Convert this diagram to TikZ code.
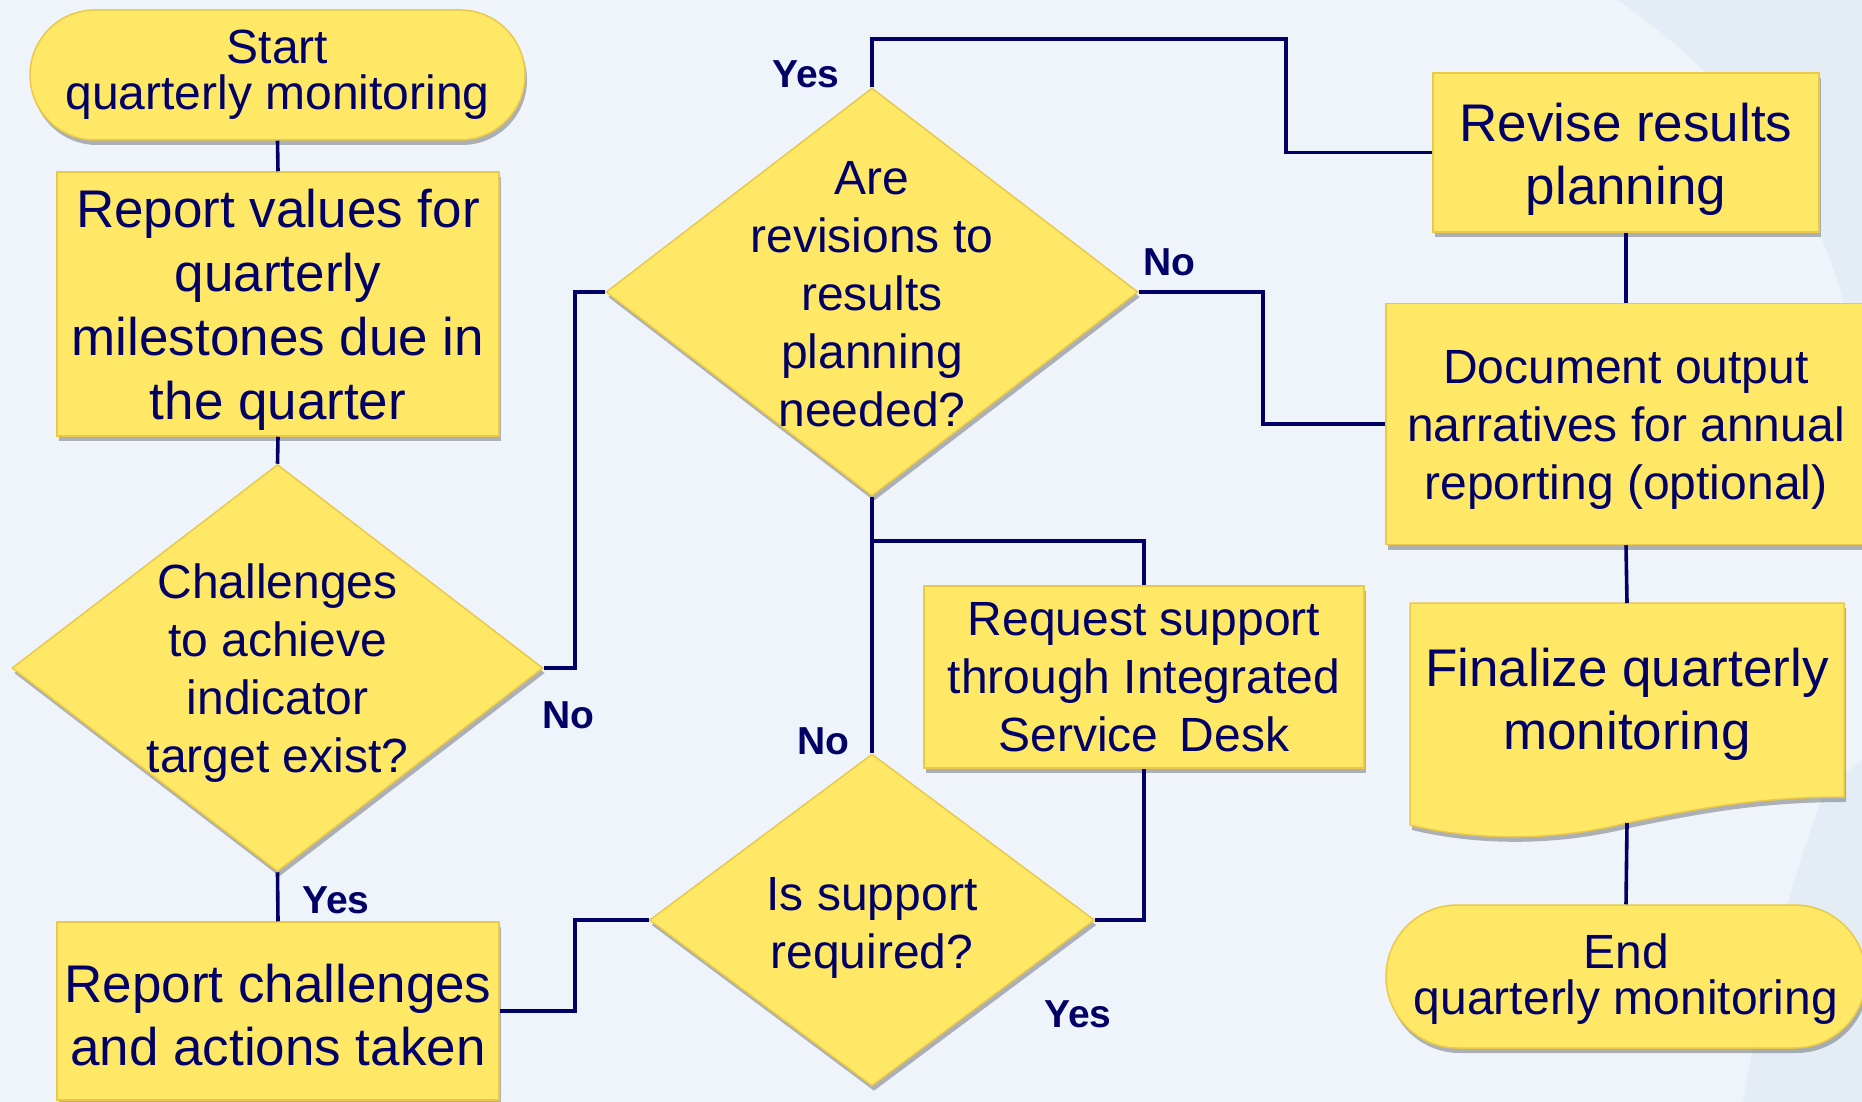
\documentclass[tikz,border=0pt]{standalone}
\usepackage{fontspec}
\setmainfont{Liberation Sans}
\usetikzlibrary{shapes.geometric,shadows,calc}
\definecolor{bg}{HTML}{EFF4FA}
\definecolor{bgtwo}{HTML}{E4EDF6}
\definecolor{navy}{HTML}{000066}
\definecolor{yel}{HTML}{FFE866}
\definecolor{yeledge}{HTML}{E9C947}
\tikzset{
 shp/.style={fill=yel, draw=yeledge, line width=1.5pt,
   drop shadow={shadow xshift=2pt, shadow yshift=-5pt, opacity=0.28, fill=black}},
 proc/.style={shp, rectangle, inner sep=0pt, text=navy, align=center},
 term/.style={proc},
 dec/.style={shp, diamond, inner sep=0pt},
 txt/.style={text=navy, align=center, inner sep=0pt},
 lbl/.style={text=navy, font=\fontsize{39pt}{39pt}\selectfont\bfseries, inner sep=0pt},
 conn/.style={draw=navy, line width=3.6pt},
 fbig/.style={font=\fontsize{53pt}{64pt}\selectfont},
 fmid/.style={font=\fontsize{48pt}{58pt}\selectfont},
 fterm/.style={font=\fontsize{48pt}{46pt}\selectfont},
}
\begin{document}
\begin{tikzpicture}[x=1pt,y=-1pt]
\useasboundingbox (0,0) rectangle (1862,1102);
\fill[bg] (0,0) rectangle (1862,1102);
\fill[bgtwo] (1617,0) .. controls (1720,70) and (1820,180) .. (1850,330)
  -- (1862,330) -- (1862,0) -- cycle;
\fill[bgtwo] (1862,760) -- (1825,790) .. controls (1790,880) and (1760,1000) .. (1743,1102)
  -- (1862,1102) -- cycle;

% shapes
\node[term, fterm, minimum width=495pt, minimum height=130pt, rounded corners=65pt] (start) at (277.5,75) {Start\\quarterly monitoring};
\node[proc, minimum width=442pt, minimum height=264pt] (rv) at (278,304) {};
\node[txt, fbig] (rvt) at (278,310) {Report values for\\quarterly\\milestones due in\\the quarter};
\node[dec, minimum width=531pt, minimum height=407pt] (d1) at (277.5,668) {};
\node[txt, fmid] (d1t) at (277.5,673) {Challenges\\to achieve\\indicator\\target exist?};
\node[proc, minimum width=442pt, minimum height=178pt] (rc) at (278,1011) {};
\node[txt, fbig, font=\fontsize{53pt}{63pt}\selectfont] (rct) at (278,1015) {Report challenges\\and actions taken};

\node[dec, minimum width=532pt, minimum height=408pt] (d2) at (872,292) {};
\node[txt, fmid] (d2t) at (872,294) {Are\\revisions to\\results\\planning\\needed?};

\node[dec, minimum width=445pt, minimum height=332pt] (d3) at (872,920) {};
\node[txt, fmid] (d3t) at (872,928) {Is support\\required?};

\node[proc, fmid, minimum width=440pt, minimum height=182pt] (req) at (1144,677) {Request support\\through Integrated\\Service \,Desk};

\node[proc, minimum width=386pt, minimum height=159pt] (rev) at (1626,152.5) {};
\node[txt, font=\fontsize{53pt}{63pt}\selectfont] (revt) at (1626,159) {Revise results\\planning};
\node[proc, minimum width=480pt, minimum height=241pt] (doc) at (1626,424) {};
\node[txt, fmid] (doct) at (1626,430) {Document output\\narratives for annual\\reporting (optional)};

\path[shp] (1410,603) -- (1844,603) -- (1844,797)
  .. controls (1760,797) and (1700,808) .. (1627,823)
  .. controls (1560,840) and (1480,842) .. (1410,825) -- cycle;
\coordinate (fintop) at (1627,603);
\coordinate (finbot) at (1627,823);
\node[txt, font=\fontsize{53pt}{63pt}\selectfont] (fin) at (1627,704) {Finalize quarterly\\monitoring};

\node[term, fterm, minimum width=480pt, minimum height=143pt, rounded corners=71.5pt] (end) at (1626,976.5) {};
\node[txt, fterm] (endt) at (1626,979) {End\\quarterly monitoring};

% connectors
\coordinate (jn) at (872,541);
\draw[conn] (start.south) -- (rv.north);
\draw[conn] (rv.south) -- (d1.north);
\draw[conn] (d1.south) -- (rc.north);
\draw[conn] (d1.east) -- ++(31,0) |- (d2.west);
\draw[conn] (rc.east) -- ++(75,0) |- (d3.west);
\draw[conn] (d3.east) -| (req.south);
\draw[conn] (req.north) |- (jn);
\draw[conn] (d2.south) -- (d3.north);
\draw[conn] (d2.north) |- (1286,39) |- (rev.west);
\draw[conn] (d2.east) -- ++(124,0) |- (doc.west);
\draw[conn] (rev.south) -- (doc.north);
\draw[conn] (doc.south) -- (fintop);
\draw[conn] (finbot) -- (end.north);

% labels
\node[lbl, anchor=base west] (l1) at (302,913) {Yes};
\node[lbl, anchor=base west] (l2) at (542,728) {No};
\node[lbl, anchor=base west] (l3) at (772,88) {Yes};
\node[lbl, anchor=base west] (l4) at (1143,275) {No};
\node[lbl, anchor=base west] (l5) at (797,754) {No};
\node[lbl, anchor=base west] (l6) at (1044,1027) {Yes};
\end{tikzpicture}
\end{document}
